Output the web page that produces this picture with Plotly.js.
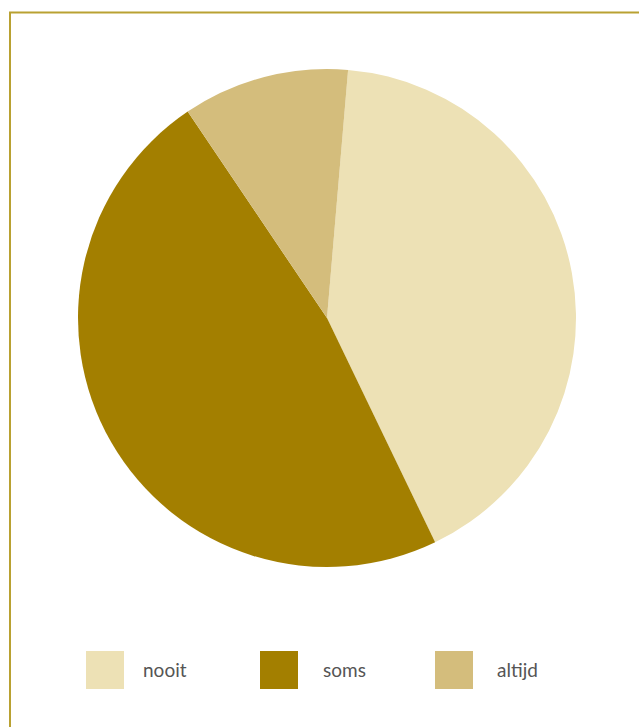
<!DOCTYPE html>
<html>
<head>
<meta charset="utf-8">
<script src="https://cdn.plot.ly/plotly-3.0.1.min.js"></script>
<style>html,body{margin:0;padding:0;background:#fff;}#chart{width:639px;height:727px;}</style>
</head>
<body>
<div id="chart"></div>
<script>
const categories = ["nooit", "soms", "altijd"];
const values = [41.5, 47.7, 10.8];
const colors = ["#ede1b5", "#a37f00", "#d4bd7c"];

const W = 639, H = 727;
const px = x => x / W;
const py = y => 1 - y / H;

const legendX = [86, 260, 435];
const legendTextX = [143, 323, 497];
const shapes = [
  {type: "line", xref: "paper", yref: "paper", x0: px(9), x1: 1, y0: py(12.5), y1: py(12.5), line: {color: "#b9a132", width: 2}},
  {type: "line", xref: "paper", yref: "paper", x0: px(10), x1: px(10), y0: py(12), y1: 0, line: {color: "#b9a132", width: 2}}
];
const annotations = [];
categories.forEach((c, i) => {
  shapes.push({type: "rect", xref: "paper", yref: "paper", x0: px(legendX[i]), x1: px(legendX[i] + 38), y0: py(689), y1: py(651), fillcolor: colors[i], line: {width: 0}});
  annotations.push({text: c, xref: "paper", yref: "paper", x: px(legendTextX[i] - 2), y: py(669), xanchor: "left", yanchor: "middle", showarrow: false, font: {family: "Lato, 'Open Sans', sans-serif", size: 19, color: "#555555"}});
});

const trace = {
  type: "pie",
  labels: categories,
  values: values,
  sort: false,
  direction: "clockwise",
  rotation: 4.86,
  marker: {colors: colors, line: {width: 0}},
  textinfo: "none",
  hoverinfo: "label+percent",
  domain: {x: [px(78), px(576)], y: [py(567), py(69)]}
};

Plotly.newPlot("chart", [trace], {
  width: W, height: H,
  margin: {l: 0, r: 0, t: 0, b: 0},
  paper_bgcolor: "#ffffff",
  showlegend: false,
  shapes: shapes,
  annotations: annotations
}, {displayModeBar: false, staticPlot: true});
</script>
</body>
</html>
